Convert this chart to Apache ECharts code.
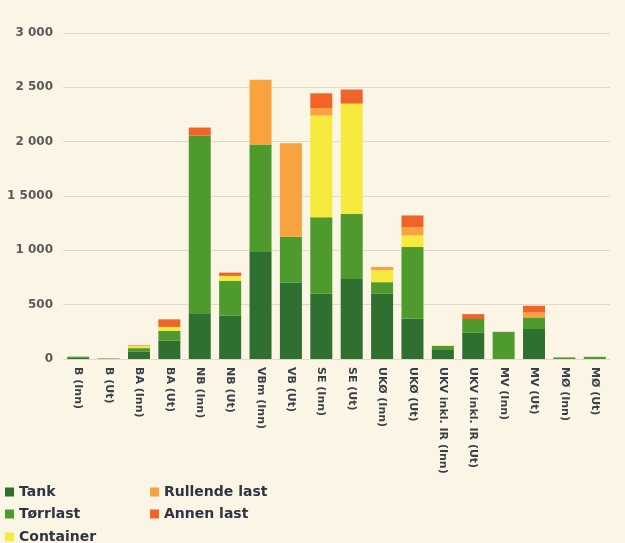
<!DOCTYPE html>
<html>
<head>
<meta charset="utf-8">
<script src="https://cdn.jsdelivr.net/npm/echarts@6/dist/echarts.min.js"></script>
<style>
html,body{margin:0;padding:0;background:#fbf5e6;}
#c{width:625px;height:543px;}
</style>
</head>
<body>
<div id="c"></div>
<script>
const categories = ["B (Inn)","B (Ut)","BA (Inn)","BA (Ut)","NB (Inn)","NB (Ut)","VBm (Inn)","VB (Ut)","SE (Inn)","SE (Ut)","UKØ (Inn)","UKØ (Ut)","UKV inkl. IR (Inn)","UKV inkl. IR (Ut)","MV (Inn)","MV (Ut)","MØ (Inn)","MØ (Ut)"];
const tank      = [10, 0, 70, 170, 415, 400, 985, 705, 600, 737, 600, 370, 90, 245, 0, 276, 0, 0];
const torrlast  = [12, 5, 30, 90, 1640, 320, 990, 420, 705, 600, 107, 660, 30, 123, 250, 107, 15, 20];
const container = [0, 0, 20, 35, 0, 45, 0, 0, 935, 1013, 110, 107, 5, 0, 0, 0, 0, 0];
const rullende  = [0, 0, 0, 0, 0, 0, 595, 860, 70, 0, 30, 77, 0, 0, 0, 45, 0, 0];
const annen     = [0, 0, 5, 70, 75, 30, 0, 0, 135, 130, 0, 107, 0, 45, 0, 62, 0, 0];
const yTickLabels = {0:"0",500:"500",1000:"1 000",1500:"1 5000",2000:"2 000",2500:"2 500",3000:"3 000"};

const colors = {
  Tank: "#2f6f2f",
  "Tørrlast": "#4f9a2c",
  Container: "#f6ea3c",
  "Rullende last": "#f8a240",
  "Annen last": "#f0642a"
};

const chart = echarts.init(document.getElementById('c'));
function s(name, data){
  return {name:name, type:'bar', stack:'total', data:data, barWidth:22,
    itemStyle:{color:colors[name]}, emphasis:{disabled:true}};
}
const legendText = {color:'#2e3440', fontSize:14, fontWeight:'bold', fontFamily:'DejaVu Sans', lineHeight:16};
function lg(name, left, top){
  return {data:[name], left:left, top:top, padding:0, itemWidth:9, itemHeight:9, itemGap:0,
    icon:'rect', textStyle:legendText, selectedMode:false};
}
chart.setOption({
  backgroundColor:'#fbf5e6',
  animation:false,
  grid:{left:63, right:15, top:33, bottom:184},
  legend:[
    lg('Tank', 5, 484), lg('Tørrlast', 5, 506), lg('Container', 5, 529),
    lg('Rullende last', 150, 484), lg('Annen last', 150, 506)
  ],
  xAxis:{
    type:'category', data:categories,
    axisLine:{show:false}, axisTick:{show:false},
    axisLabel:{rotate:-90, interval:0, margin:8, color:'#3a3f48', fontSize:11, fontWeight:'bold', fontFamily:'DejaVu Sans'}
  },
  yAxis:{
    type:'value', min:0, max:3000, interval:500,
    axisLine:{show:false}, axisTick:{show:false},
    splitLine:{lineStyle:{color:'#e6d6cc', width:1}},
    axisLabel:{margin:10, color:'#5a5a5a', fontSize:12, fontWeight:'bold', fontFamily:'DejaVu Sans',
      formatter:function(v){return yTickLabels[v]!==undefined?yTickLabels[v]:'';}}
  },
  series:[s('Tank',tank), s('Tørrlast',torrlast), s('Container',container), s('Rullende last',rullende), s('Annen last',annen)]
});
</script>
</body>
</html>
